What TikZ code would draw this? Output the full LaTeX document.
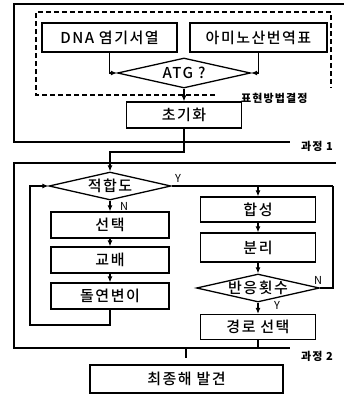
\documentclass[tikz,border=0pt]{standalone}
\usepackage{fontspec}
\setmainfont{Noto Sans CJK KR}
\newfontfamily\kfont[LetterSpace=10]{Noto Sans CJK KR Medium}
\usetikzlibrary{arrows.meta,shapes.geometric}
\begin{document}
\begin{tikzpicture}[x=1pt,y=-1pt,
  box/.style={draw,line width=1.3pt,minimum width=115pt,minimum height=26pt,inner sep=0pt,font=\kfont\fontsize{15}{15}\selectfont},
  dia/.style={draw,diamond,line width=1.3pt,inner sep=0pt},
  diatext/.style={inner sep=0pt,font=\kfont\fontsize{15}{15}\selectfont},
  conn/.style={line width=1.1pt},
  arr/.style={conn,-{Latex[length=6pt,width=5pt]}},
  frameline/.style={line width=2.4pt},
  lab/.style={font=\kfont\fontsize{11}{11}\selectfont\bfseries,inner sep=0pt},
  yn/.style={font=\fontsize{11}{11}\selectfont,inner sep=0pt}]
\useasboundingbox (0,0) rectangle (344,400);
% frames
\draw[frameline] (344,4) -- (14,4) -- (14,142) -- (290,142);
\draw[frameline] (336,163) -- (14,163) -- (14,348) -- (290,348);
\draw[line width=1.1pt,dash pattern=on 5pt off 3pt] (215,95) -- (36,95) -- (36,12) -- (331,12) -- (331,88);
\node[lab,anchor=west] (lp1) at (301,146) {과정 1};
\node[lab,anchor=west] (lp2) at (301,356) {과정 2};
\node[lab,anchor=west] (lrep) at (241,98) {표현방법결정};
% nodes
\node[box,minimum width=135pt,minimum height=29pt] (dna) at (109.5,37.5) {DNA 염기서열};
\node[box,minimum width=137pt,minimum height=29pt] (amino) at (258.5,37.5) {아미노산번역표};
\node[dia,minimum width=133pt,minimum height=30pt] (atg) at (184,73) {};
\node[diatext] (atgt) at (atg.center) {ATG ?};
\node[box,minimum width=115pt] (init) at (184,115) {초기화};
\node[dia,minimum width=122pt,minimum height=28pt] (fit) at (110,186) {};
\node[diatext] (fitt) at (fit.center) {적합도};
\node[box,minimum width=118pt] (sel) at (110,225) {선택};
\node[box,minimum width=118pt] (cross) at (110,260) {교배};
\node[box,minimum width=118pt] (mut) at (110,296) {돌연변이};
\node[box,minimum height=25pt] (syn) at (258,209.5) {합성};
\node[box,minimum height=29pt] (sep) at (258,247.5) {분리};
\node[dia,minimum width=123pt,minimum height=28pt] (cnt) at (258,288) {};
\node[diatext] (cntt) at (cnt.center) {반응횟수};
\node[box,minimum height=25pt] (path) at (258,327) {경로 선택};
\node[box,minimum width=193pt,minimum height=28pt] (final) at (186.5,379) {최종해 발견};
% coordinates
\coordinate (j1) at (184,152);
\coordinate (r1) at (333,186);
\coordinate (r2) at (333,288);
\coordinate (l1) at (110,325);
\coordinate (l2) at (30,325);
\coordinate (l3) at (30,186);
\coordinate (b1) at (258,348);
\coordinate (b2) at (186,348);
% connectors
\draw[arr] (dna.south) |- (atg.west);
\draw[arr] (amino.south) |- (atg.east);
\draw[arr] (atg.south) -- (init.north);
\draw[arr] (init.south) -- (j1) -| (fit.north);
\draw[conn] (fit.east) -- (r1);
\draw[arr] (syn.north |- r1) -- (syn.north);
\draw[arr] (fit.south) -- (sel.north);
\draw[arr] (sel.south) -- (cross.north);
\draw[arr] (cross.south) -- (mut.north);
\draw[arr] (mut.south) -- (l1) -- (l2) -- (l3) -- (fit.west);
\draw[arr] (syn.south) -- (sep.north);
\draw[arr] (sep.south) -- (cnt.north);
\draw[arr] (cnt.south) -- (path.north);
\draw[conn] (cnt.east) -- (r2) -- (r1);
\draw[conn] (path.south) -- (b1);
\draw[line width=2.4pt] (b1) -- (b2);
\draw[conn] (b2) -- (186,358);
% labels
\node[yn] (ly1) at (178,178) {Y};
\node[yn] (ln1) at (124,206) {N};
\node[yn] (ln2) at (318,280) {N};
\node[yn] (ly2) at (277,305) {Y};
\end{tikzpicture}
\end{document}
